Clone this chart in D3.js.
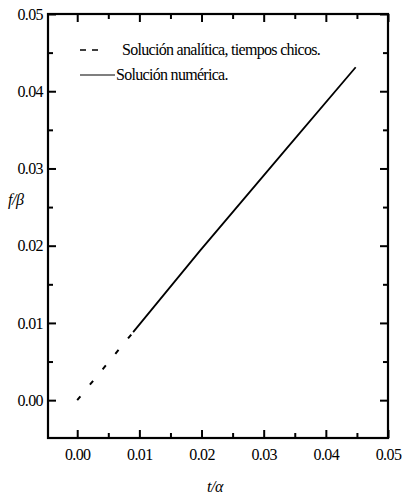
<!DOCTYPE html>
<html>
<head>
<meta charset="utf-8">
<script src="https://cdn.jsdelivr.net/npm/d3@7"></script>
<style>
  body { margin: 0; background: #fff; }
</style>
</head>
<body>
<div id="chart"></div>
<script>
// data
const analyticT = [0.0, 0.009];
const analyticF = [0.0, 0.0088];
const numericT = [0.009, 0.0198, 0.0336, 0.0448];
const numericF = [0.0088, 0.0194, 0.0325, 0.0431];
const xTicks = [0.00, 0.01, 0.02, 0.03, 0.04, 0.05];
const yTicks = [0.00, 0.01, 0.02, 0.03, 0.04, 0.05];
const legendLabels = ["Solución analítica, tiempos chicos.", "Solución numérica."];

const width = 402, height = 499;
const margin = {top: 14, right: 14, bottom: 61, left: 48};
const serif = "Liberation Serif";

const svg = d3.select("#chart").append("svg")
    .attr("width", width)
    .attr("height", height);

const x = d3.scaleLinear()
    .domain([-0.0047, 0.05])
    .range([margin.left, width - margin.right]);
const y = d3.scaleLinear()
    .domain([-0.0049, 0.05])
    .range([height - margin.bottom, margin.top]);

const minorX = d3.range(0.005, 0.05, 0.01);
const minorY = d3.range(0.005, 0.05, 0.01);
const fmt = d3.format(".2f");

// inward ticks on all four sides
function ticks(axisGen, transform) {
    return svg.append("g")
        .attr("transform", transform)
        .call(axisGen)
        .attr("font-family", serif)
        .attr("font-size", 16)
        .attr("letter-spacing", "-0.6px")
        .call(g => g.select(".domain").remove())
        .call(g => g.selectAll("line").attr("stroke", "#000").attr("stroke-width", 2))
        .call(g => g.selectAll("text").attr("fill", "#000"));
}

const bottomT = `translate(0,${y.range()[0]})`;
const topT = `translate(0,${y.range()[1]})`;
const leftT = `translate(${x.range()[0]},0)`;
const rightT = `translate(${x.range()[1]},0)`;

const xAxisG = ticks(d3.axisBottom(x).tickValues(xTicks).tickSize(-8).tickFormat(fmt), bottomT);
ticks(d3.axisBottom(x).tickValues(minorX).tickSize(-5).tickFormat(""), bottomT);
ticks(d3.axisTop(x).tickValues(xTicks).tickSize(-8).tickFormat(""), topT);
ticks(d3.axisTop(x).tickValues(minorX).tickSize(-5).tickFormat(""), topT);
const yAxisG = ticks(d3.axisLeft(y).tickValues(yTicks).tickSize(-8).tickFormat(fmt), leftT);
ticks(d3.axisLeft(y).tickValues(minorY).tickSize(-5).tickFormat(""), leftT);
ticks(d3.axisRight(y).tickValues(yTicks).tickSize(-8).tickFormat(""), rightT);
ticks(d3.axisRight(y).tickValues(minorY).tickSize(-5).tickFormat(""), rightT);

xAxisG.selectAll(".tick text").attr("y", 11).attr("dy", "0.71em");
yAxisG.selectAll(".tick text").attr("x", -5);

// frame
svg.append("rect")
    .attr("x", x.range()[0])
    .attr("y", y.range()[1])
    .attr("width", x.range()[1] - x.range()[0])
    .attr("height", y.range()[0] - y.range()[1])
    .attr("fill", "none")
    .attr("stroke", "#000")
    .attr("stroke-width", 2.2);

const line = d3.line().x(d => x(d[0])).y(d => y(d[1]));

svg.append("path")
    .datum(analyticT.map((t, i) => [t, analyticF[i]]))
    .attr("d", line)
    .attr("fill", "none")
    .attr("stroke", "#000")
    .attr("stroke-width", 2)
    .attr("stroke-dasharray", "5,15");

svg.append("path")
    .datum(numericT.map((t, i) => [t, numericF[i]]))
    .attr("d", line)
    .attr("fill", "none")
    .attr("stroke", "#000")
    .attr("stroke-width", 1.8);

// legend
const legend = svg.append("g").attr("transform", "translate(80,50)");
legend.append("line")
    .attr("x1", 0).attr("x2", 18).attr("y1", 0).attr("y2", 0)
    .attr("stroke", "#000").attr("stroke-width", 1.6)
    .attr("stroke-dasharray", "6,6");
legend.append("line")
    .attr("x1", 0).attr("x2", 35).attr("y1", 25).attr("y2", 25)
    .attr("stroke", "#000").attr("stroke-width", 1.2);

legend.selectAll("text.lab")
    .data(legendLabels)
    .enter().append("text")
    .attr("class", "lab")
    .attr("x", (d, i) => i === 0 ? 42 : 36)
    .attr("y", (d, i) => i * 25 + 5)
    .style("font-family", serif)
    .style("font-size", "16px")
    .style("letter-spacing", "-0.7px")
    .text(d => d);

// axis titles
svg.append("text")
    .attr("x", 8).attr("y", 205)
    .style("font-family", serif)
    .style("font-size", "16px")
    .style("font-style", "italic")
    .style("letter-spacing", "-0.5px")
    .text("f/β");
svg.append("text")
    .attr("x", 207).attr("y", 492)
    .style("font-family", serif)
    .style("font-size", "16px")
    .style("font-style", "italic")
    .style("letter-spacing", "-0.5px")
    .text("t/α");
</script>
</body>
</html>
